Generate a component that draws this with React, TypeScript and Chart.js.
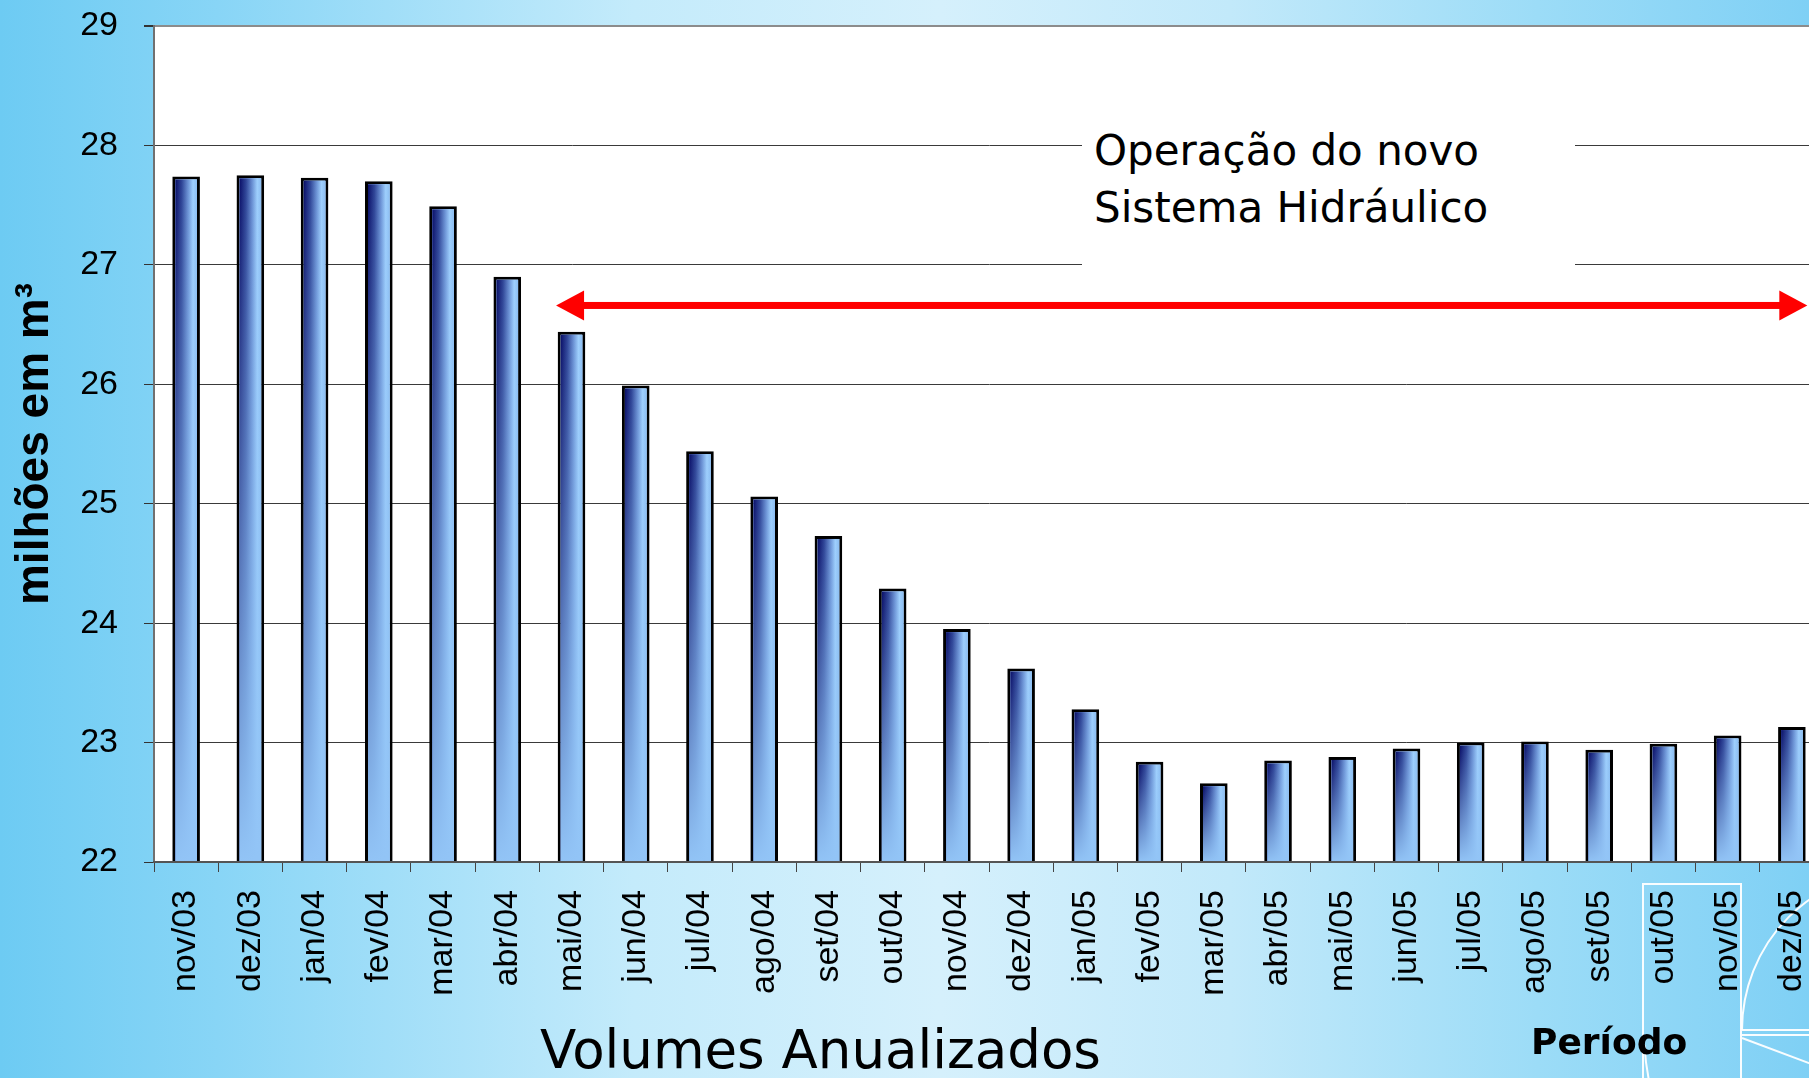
import React, { useEffect, useRef } from 'react';
import { Chart, registerables } from 'chart.js';

Chart.register(...registerables);

const categories = [
  'nov/03', 'dez/03', 'jan/04', 'fev/04', 'mar/04', 'abr/04', 'mai/04', 'jun/04', 'jul/04',
  'ago/04', 'set/04', 'out/04', 'nov/04', 'dez/04', 'jan/05', 'fev/05', 'mar/05', 'abr/05',
  'mai/05', 'jun/05', 'jul/05', 'ago/05', 'set/05', 'out/05', 'nov/05', 'dez/05',
];

const volumes = [
  27.74, 27.75, 27.73, 27.7, 27.49, 26.9, 26.44, 25.99, 25.44,
  25.06, 24.73, 24.29, 23.95, 23.62, 23.28, 22.84, 22.66, 22.85,
  22.88, 22.95, 23.0, 23.01, 22.94, 22.99, 23.06, 23.13,
];

const Y_MIN = 22;
const Y_MAX = 29;
const Y_STEP = 1;

const ARROW_FROM = 'mai/04';
const ARROW_TO = 'dez/05';
const ARROW_LEVEL = 26.66;

const annotationLines = ['Operação do novo', 'Sistema Hidráulico'];
const chartTitle = 'Volumes Anualizados';
const xTitle = 'Período';
const yTitle = 'milhões em m³';

const SANS = '"Liberation Sans", Arial, sans-serif';
const DEJAVU = '"DejaVu Sans", Verdana, sans-serif';

const decorPlugin = {
  id: 'decorAndArea',
  beforeDraw(chart: any) {
    const ctx = chart.ctx;
    const a = chart.chartArea;
    ctx.save();
    ctx.strokeStyle = 'rgba(255,255,255,0.95)';
    ctx.lineWidth = 2;
    ctx.strokeRect(1643, 884, 98, 260);
    ctx.beginPath();
    ctx.arc(1902, 1030, 160, Math.PI, Math.PI * 1.5);
    ctx.stroke();
    ctx.beginPath();
    ctx.moveTo(1742, 1030); ctx.lineTo(1830, 1030);
    ctx.moveTo(1742, 1035); ctx.lineTo(1830, 1035);
    ctx.moveTo(1742, 1038); ctx.lineTo(1830, 1071);
    ctx.stroke();
    ctx.save();
    ctx.beginPath();
    ctx.rect(1600, 1045, 300, 40);
    ctx.clip();
    ctx.beginPath();
    ctx.arc(1902, 1030, 258, Math.PI * 0.8, Math.PI);
    ctx.stroke();
    ctx.restore();
    ctx.fillStyle = '#ffffff';
    ctx.fillRect(a.left, a.top, a.right - a.left, a.bottom - a.top);
    ctx.restore();
  },
};

const barShadePlugin = {
  id: 'barShade',
  afterDatasetsDraw(chart: any) {
    const ctx = chart.ctx;
    const meta = chart.getDatasetMeta(0);
    const area = chart.chartArea;
    const bw = 3;
    ctx.save();
    meta.data.forEach((el: any) => {
      const { x, y, base, width } = el.getProps(['x', 'y', 'base', 'width'], true);
      const l = x - width / 2 + bw;
      const r = x + width / 2 - bw;
      const t = y + bw;
      const b = Math.min(base, area.bottom);
      if (b - t <= 0) return;
      const hg = ctx.createLinearGradient(l, 0, r, 0);
      hg.addColorStop(0, '#0a0f68');
      hg.addColorStop(0.3, '#2f4597');
      hg.addColorStop(0.6, '#6d94d6');
      hg.addColorStop(0.82, '#9ecffd');
      hg.addColorStop(1, '#8dbef2');
      ctx.fillStyle = hg;
      ctx.fillRect(l, t, r - l, b - t);
      const vg = ctx.createLinearGradient(0, t, 0, b);
      vg.addColorStop(0, 'rgba(146,196,246,0)');
      vg.addColorStop(1, 'rgba(146,196,246,1)');
      ctx.fillStyle = vg;
      ctx.fillRect(l, t, r - l, b - t);
    });
    ctx.restore();
  },
};

const arrowPlugin = {
  id: 'arrow',
  afterDatasetsDraw(chart: any) {
    const ctx = chart.ctx;
    const xs = chart.scales.x;
    const ys = chart.scales.y;
    const i0 = categories.indexOf(ARROW_FROM);
    const i1 = categories.indexOf(ARROW_TO);
    const step = xs.getPixelForValue(1) - xs.getPixelForValue(0);
    const xa = xs.getPixelForValue(i0) - 0.24 * step;
    const xb = xs.getPixelForValue(i1) + 0.24 * step;
    const yy = ys.getPixelForValue(ARROW_LEVEL);
    const head = 28;
    const half = 15;
    ctx.save();
    ctx.fillStyle = '#ff0000';
    ctx.fillRect(xa + head - 1, yy - 3.5, xb - xa - 2 * head + 2, 7);
    ctx.beginPath();
    ctx.moveTo(xa, yy);
    ctx.lineTo(xa + head, yy - half);
    ctx.lineTo(xa + head, yy + half);
    ctx.closePath();
    ctx.fill();
    ctx.beginPath();
    ctx.moveTo(xb, yy);
    ctx.lineTo(xb - head, yy - half);
    ctx.lineTo(xb - head, yy + half);
    ctx.closePath();
    ctx.fill();
    ctx.restore();
  },
};

export default function App() {
  const canvasRef = useRef<HTMLCanvasElement | null>(null);

  useEffect(() => {
    if (!canvasRef.current) return;
    const chart = new Chart(canvasRef.current, {
      type: 'bar',
      data: {
        labels: categories,
        datasets: [
          {
            data: volumes,
            backgroundColor: '#92c4f6',
            borderColor: '#000000',
            borderWidth: 3,
            barPercentage: 0.43,
            categoryPercentage: 1,
          },
        ],
      },
      options: {
        responsive: false,
        animation: false,
        devicePixelRatio: 1,
        layout: { padding: { top: 26, left: 0, right: 0, bottom: 0 } },
        plugins: {
          legend: { display: false },
          tooltip: { enabled: false },
        },
        scales: {
          x: {
            type: 'category',
            offset: true,
            grid: {
              offset: true,
              display: true,
              drawOnChartArea: false,
              drawTicks: true,
              tickLength: 10,
              color: '#444444',
              lineWidth: 1,
            },
            border: { display: true, color: '#555555', width: 2, z: 1 },
            ticks: {
              autoSkip: false,
              minRotation: 90,
              maxRotation: 90,
              padding: 18,
              color: '#000000',
              font: { size: 34, family: SANS },
            },
            afterFit: (s: any) => {
              s.height = 216;
              s.paddingLeft = 0;
              s.paddingRight = 0;
            },
          },
          y: {
            min: Y_MIN,
            max: Y_MAX,
            ticks: {
              stepSize: Y_STEP,
              padding: 26,
              color: '#000000',
              font: { size: 34, family: SANS },
            },
            grid: {
              color: (c: any) => (c.tick && c.tick.value === Y_MAX ? '#8c8c8c' : '#3a3a3a'),
              lineWidth: (c: any) => (c.tick && c.tick.value === Y_MAX ? 2 : 1),
              tickColor: '#333333',
              tickLength: 10,
            },
            border: { display: true, color: '#707070', width: 2 },
            title: {
              display: true,
              text: yTitle,
              color: '#000000',
              font: { size: 46, weight: 'bold', family: SANS },
              padding: { top: 8, bottom: 0 },
            },
            afterFit: (s: any) => {
              s.width = 154;
              s.paddingTop = 0;
              s.paddingBottom = 0;
            },
          },
        },
      },
      plugins: [decorPlugin, barShadePlugin, arrowPlugin],
    } as any);
    return () => chart.destroy();
  }, []);

  return (
    <div
      style={{
        position: 'fixed',
        left: 0,
        top: 0,
        width: 1809,
        height: 1078,
        overflow: 'hidden',
        background:
          'linear-gradient(to right, #6dcbf3 0%, #88d5f6 12%, #c4ebfb 35%, #d5f0fc 52%, #c2e9fa 68%, #9cdcf7 85%, #7fd0f5 100%)',
      }}
    >
      <canvas
        ref={canvasRef}
        width={1824}
        height={1078}
        style={{ position: 'absolute', left: 0, top: 0, width: 1824, height: 1078 }}
      />
      <div
        style={{
          position: 'absolute',
          left: 1082,
          top: 100,
          width: 493,
          height: 186,
          background: '#ffffff',
          boxSizing: 'border-box',
          paddingLeft: 12,
          paddingTop: 22,
          fontFamily: DEJAVU,
          fontSize: 42,
          lineHeight: '57px',
          color: '#000',
          whiteSpace: 'nowrap',
        }}
      >
        {annotationLines.map((t) => (
          <div key={t}>{t}</div>
        ))}
      </div>
      <div
        style={{
          position: 'absolute',
          left: 540,
          top: 1023,
          fontFamily: DEJAVU,
          fontSize: 53,
          lineHeight: '53px',
          color: '#000',
          whiteSpace: 'nowrap',
        }}
      >
        {chartTitle}
      </div>
      <div
        style={{
          position: 'absolute',
          left: 1531,
          top: 1024,
          fontFamily: DEJAVU,
          fontWeight: 'bold',
          fontSize: 36,
          lineHeight: '36px',
          color: '#000',
          whiteSpace: 'nowrap',
        }}
      >
        {xTitle}
      </div>
    </div>
  );
}
